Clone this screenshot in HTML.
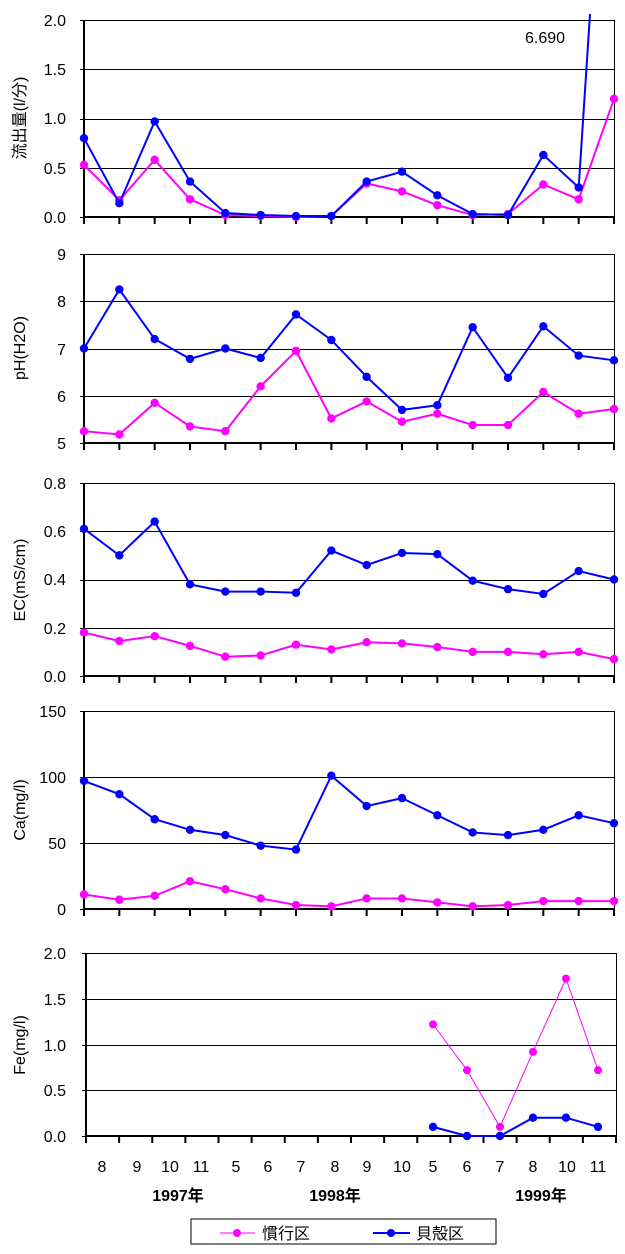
<!DOCTYPE html>
<html><head><meta charset="utf-8"><style>
html,body{margin:0;padding:0;background:#fff;}
svg{display:block;font-family:"Liberation Sans","Noto Sans CJK JP",sans-serif;}
</style></head><body>
<svg id="s" width="625" height="1254" viewBox="0 0 625 1254" xmlns="http://www.w3.org/2000/svg">
<g font-size="16" fill="#000" text-anchor="end">
<text x="66" y="26">2.0</text><text x="66" y="75">1.5</text><text x="66" y="124">1.0</text><text x="66" y="174">0.5</text><text x="66" y="223">0.0</text>
<text x="66" y="260">9</text><text x="66" y="307">8</text><text x="66" y="355">7</text><text x="66" y="402">6</text><text x="66" y="449">5</text>
<text x="66" y="489">0.8</text><text x="66" y="537">0.6</text><text x="66" y="585">0.4</text><text x="66" y="634">0.2</text><text x="66" y="682">0.0</text>
<text x="66" y="717">150</text><text x="66" y="783">100</text><text x="66" y="849">50</text><text x="66" y="915">0</text>
<text x="66" y="959">2.0</text><text x="66" y="1005">1.5</text><text x="66" y="1051">1.0</text><text x="66" y="1096">0.5</text><text x="66" y="1142">0.0</text>
</g>
<g font-size="16" text-anchor="middle">
<text transform="translate(25,118) rotate(-90)">流出量(l/分)</text>
<text transform="translate(25,348) rotate(-90)">pH(H2O)</text>
<text transform="translate(25,580) rotate(-90)">EC(mS/cm)</text>
<text transform="translate(25,810) rotate(-90)">Ca(mg/l)</text>
<text transform="translate(25,1045) rotate(-90)">Fe(mg/l)</text>
</g>
<text x="525" y="43" font-size="16">6.690</text>
<g font-size="16" text-anchor="middle">
<text x="102" y="1172">8</text><text x="137" y="1172">9</text><text x="170" y="1172">10</text><text x="201" y="1172">11</text>
<text x="236" y="1172">5</text><text x="268" y="1172">6</text><text x="301" y="1172">7</text><text x="335" y="1172">8</text>
<text x="367" y="1172">9</text><text x="402" y="1172">10</text><text x="433" y="1172">5</text><text x="467" y="1172">6</text>
<text x="500" y="1172">7</text><text x="533" y="1172">8</text><text x="567" y="1172">10</text><text x="598" y="1172">11</text>
</g>
<g font-size="16" font-weight="bold" text-anchor="middle">
<text x="178" y="1201">1997年</text><text x="335" y="1201">1998年</text><text x="541" y="1201">1999年</text>
</g>
<rect x="191" y="1219" width="305" height="25" fill="none" stroke="#000" stroke-width="1"/>
<line x1="220" y1="1233" x2="255" y2="1233" stroke="#f0f" stroke-width="1"/>
<circle cx="237" cy="1233" r="4" fill="#f0f"/>
<text x="262" y="1239" font-size="16">慣行区</text>
<line x1="373" y1="1233" x2="410" y2="1233" stroke="#00f" stroke-width="2"/>
<circle cx="391" cy="1233" r="4" fill="#00f"/>
<text x="416" y="1239" font-size="16">貝殻区</text>
<g id="g"></g>
</svg>
<script>
var g=document.getElementById('g'),NS='http://www.w3.org/2000/svg';
function el(n,a){var e=document.createElementNS(NS,n);for(var k in a)e.setAttribute(k,a[k]);g.appendChild(e);return e;}
var P=[
{t:20,b:217,mn:0,mx:2,st:0.5,x0:84,x1:614,
B:[.8,.14,.97,.36,.04,.02,.01,.01,.36,.46,.22,.03,.02,.63,.30],P:[.53,.17,.58,.18,.02,.01,0,.01,.34,.26,.12,.02,.03,.33,.18,1.2]},
{t:254,b:443,mn:5,mx:9,st:1,x0:84,x1:614,
B:[7.0,8.25,7.2,6.78,7.0,6.8,7.72,7.18,6.4,5.7,5.8,7.45,6.38,7.47,6.85,6.75],P:[5.25,5.18,5.85,5.35,5.25,6.2,6.95,5.52,5.88,5.45,5.62,5.38,5.38,6.08,5.62,5.72]},
{t:483,b:676,mn:0,mx:.8,st:.2,x0:84,x1:614,
B:[.61,.50,.64,.38,.35,.35,.345,.52,.46,.51,.505,.395,.36,.34,.435,.40],P:[.18,.145,.165,.125,.08,.085,.13,.11,.14,.135,.12,.10,.10,.09,.10,.07]},
{t:711,b:909,mn:0,mx:150,st:50,x0:84,x1:614,
B:[97,87,68,60,56,48,45,101,78,84,71,58,56,60,71,65],P:[11,7,10,21,15,8,3,2,8,8,5,2,3,6,6,6]}
];
P.forEach(function(p){
 var n=15,dx=(p.x1-p.x0)/n;
 function Y(v){return p.b-(v-p.mn)/(p.mx-p.mn)*(p.b-p.t);}
 for(var v=p.mn;v<=p.mx+1e-9;v+=p.st){var y=Math.round(Y(v))+.5;el('line',{x1:p.x0-4,y1:y,x2:p.x1,y2:y,stroke:'#000','stroke-width':1});}
 el('line',{x1:p.x1+.5,y1:p.t,x2:p.x1+.5,y2:p.b,stroke:'#000','stroke-width':1});
 el('line',{x1:p.x0,y1:p.t,x2:p.x0,y2:p.b+7,stroke:'#000','stroke-width':2});
 el('line',{x1:p.x0,y1:p.b,x2:p.x1,y2:p.b,stroke:'#000','stroke-width':2});
 for(var i=0;i<=n;i++){var x=p.x0+i*dx;el('line',{x1:x,y1:p.b,x2:x,y2:p.b+7,stroke:'#000','stroke-width':2});}
 [['P','#f0f'],['B','#00f']].forEach(function(s){
  var d=p[s[0]],pts=d.map(function(v,i){return (p.x0+i*dx)+','+Y(v);});
  if(s[0]=='B'&&d.length==15)pts.push('590,14');
  el('polyline',{points:pts.join(' '),fill:'none',stroke:s[1],'stroke-width':2});
  d.forEach(function(v,i){el('circle',{cx:p.x0+i*dx,cy:Y(v),r:4.2,fill:s[1]});});
 });
});
// Fe panel
(function(){
 var t=953,b=1136,x0=86,x1=616,n=16,dx=(x1-x0)/n;
 function Y(v){return b-v/2*(b-t);}
 for(var v=0;v<=2;v+=.5){var y=Math.round(Y(v))+.5;el('line',{x1:x0-4,y1:y,x2:x1,y2:y,stroke:'#000','stroke-width':1});}
 el('line',{x1:x1+.5,y1:t,x2:x1+.5,y2:b,stroke:'#000','stroke-width':1});
 el('line',{x1:x0,y1:t,x2:x0,y2:b+7,stroke:'#000','stroke-width':2});
 el('line',{x1:x0,y1:b,x2:x1,y2:b,stroke:'#000','stroke-width':2});
 for(var i=0;i<=n;i++){var x=x0+i*dx;el('line',{x1:x,y1:b,x2:x,y2:b+7,stroke:'#000','stroke-width':2});}
 var xs=[433,467,500,533,566,598];
 var Pp=[1.22,.72,.1,.92,1.72,.72],Bb=[.1,0,0,.2,.2,.1];
 el('polyline',{points:xs.map(function(x,i){return x+','+Y(Pp[i]);}).join(' '),fill:'none',stroke:'#f0f','stroke-width':1});
 xs.forEach(function(x,i){el('circle',{cx:x,cy:Y(Pp[i]),r:4,fill:'#f0f'});});
 el('polyline',{points:xs.map(function(x,i){return x+','+Y(Bb[i]);}).join(' '),fill:'none',stroke:'#00f','stroke-width':2});
 xs.forEach(function(x,i){el('circle',{cx:x,cy:Y(Bb[i]),r:4.2,fill:'#00f'});});
})();
</script>
</body></html>
